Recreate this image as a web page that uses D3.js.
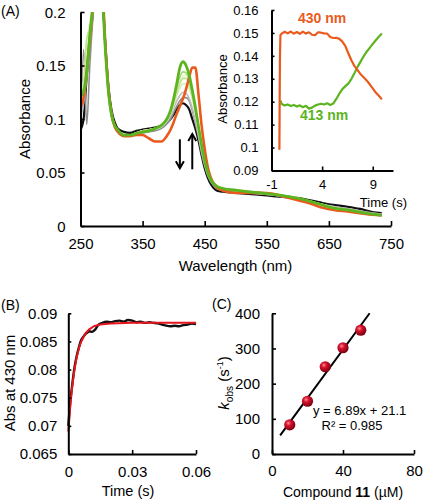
<!DOCTYPE html>
<html><head><meta charset="utf-8">
<script src="https://cdn.jsdelivr.net/npm/d3@7"></script>
<style>
body{margin:0;background:#fff}
svg{display:block;font-family:"Liberation Sans",Arial,Helvetica,sans-serif}
</style>
</head><body>
<svg id="chart" width="423" height="500"></svg>
<script>
// ---------------- DATA ----------------
// Panel A : UV-vis spectra
const wavelengths = [250,255,260,265,270,275,280,285,290,295,300,305,310,320,330,340,350,360,370,380,390,395,400,405,410,415,420,425,430,435,440,445,450,455,460,470,480,500,520,540,560,580,600,620,640,660,680,700,720,735];
const specBlack  = [0.090,0.100,0.140,0.170,0.200,0.230,0.240,0.220,0.170,0.130,0.108,0.097,0.091,0.088,0.087,0.089,0.090,0.091,0.092,0.094,0.097,0.100,0.104,0.109,0.113,0.1147,0.113,0.109,0.100,0.091,0.080,0.066,0.054,0.045,0.039,0.033,0.032,0.031,0.030,0.029,0.028,0.027,0.026,0.024,0.0215,0.0195,0.018,0.016,0.013,0.012];
const specGrey1  = [0.080,0.165,0.095,0.150,0.195,0.225,0.235,0.215,0.165,0.128,0.106,0.094,0.089,0.084,0.084,0.086,0.087,0.088,0.089,0.091,0.096,0.100,0.106,0.112,0.117,0.120,0.120,0.117,0.108,0.096,0.083,0.068,0.056,0.047,0.041,0.035,0.033,0.0315,0.031,0.030,0.029,0.027,0.025,0.023,0.020,0.018,0.016,0.014,0.012,0.011];
const specGrey2  = [0.100,0.115,0.140,0.172,0.200,0.228,0.238,0.218,0.168,0.128,0.105,0.094,0.089,0.085,0.085,0.087,0.089,0.090,0.091,0.093,0.098,0.103,0.110,0.117,0.122,0.125,0.124,0.119,0.110,0.098,0.085,0.070,0.058,0.048,0.042,0.036,0.034,0.032,0.031,0.030,0.029,0.027,0.025,0.023,0.020,0.018,0.016,0.014,0.012,0.011];
const specLight1 = [0.115,0.130,0.170,0.190,0.210,0.232,0.238,0.218,0.168,0.127,0.104,0.094,0.089,0.085,0.085,0.087,0.089,0.090,0.091,0.093,0.099,0.105,0.113,0.122,0.129,0.133,0.133,0.129,0.119,0.105,0.089,0.073,0.060,0.049,0.043,0.037,0.034,0.033,0.032,0.031,0.030,0.028,0.026,0.023,0.020,0.017,0.015,0.013,0.011,0.010];
const specLight2 = [0.118,0.132,0.175,0.185,0.208,0.232,0.237,0.217,0.167,0.126,0.104,0.094,0.089,0.085,0.085,0.087,0.089,0.090,0.091,0.094,0.100,0.106,0.115,0.125,0.133,0.138,0.138,0.133,0.122,0.107,0.090,0.074,0.060,0.049,0.043,0.037,0.035,0.033,0.032,0.031,0.030,0.028,0.026,0.023,0.020,0.017,0.015,0.013,0.011,0.010];
const specLight3 = [0.118,0.135,0.165,0.188,0.207,0.232,0.237,0.217,0.167,0.126,0.104,0.094,0.089,0.085,0.085,0.087,0.089,0.090,0.091,0.094,0.100,0.107,0.117,0.127,0.135,0.140,0.141,0.137,0.126,0.110,0.092,0.075,0.061,0.050,0.043,0.037,0.035,0.033,0.032,0.031,0.030,0.028,0.026,0.023,0.020,0.017,0.015,0.013,0.011,0.010];
const specLight4 = [0.120,0.128,0.150,0.182,0.206,0.231,0.236,0.216,0.166,0.126,0.104,0.094,0.089,0.085,0.085,0.087,0.088,0.089,0.091,0.094,0.100,0.107,0.117,0.129,0.139,0.144,0.143,0.137,0.125,0.110,0.092,0.075,0.061,0.050,0.043,0.037,0.035,0.033,0.032,0.031,0.030,0.028,0.026,0.023,0.020,0.017,0.015,0.013,0.011,0.010];
const specOrange = [0.110,0.120,0.145,0.175,0.205,0.230,0.240,0.225,0.170,0.128,0.104,0.093,0.088,0.084,0.084,0.085,0.085,0.082,0.079,0.079,0.085,0.090,0.097,0.105,0.112,0.119,0.128,0.139,0.148,0.148,0.123,0.094,0.072,0.055,0.045,0.036,0.033,0.031,0.031,0.031,0.030,0.027,0.024,0.021,0.017,0.0148,0.0135,0.012,0.0105,0.0098];
const specGreen  = [0.121,0.126,0.142,0.178,0.205,0.230,0.235,0.215,0.165,0.125,0.104,0.094,0.090,0.085,0.085,0.0865,0.088,0.089,0.091,0.094,0.101,0.108,0.119,0.133,0.148,0.1535,0.150,0.141,0.127,0.111,0.093,0.076,0.061,0.050,0.043,0.037,0.035,0.0335,0.032,0.031,0.0295,0.028,0.026,0.023,0.0195,0.0165,0.015,0.013,0.011,0.010];
const xTicksA = [250,350,450,550,650,750];
const xTickLabelsA = ['250','350','450','550','650','750'];
const yTicksA = [0,0.05,0.1,0.15,0.2];
const yTickLabelsA = ['0','0.05','0.1','0.15','0.2'];
// arrows (wavelength, from absorbance, to absorbance)
const arrowWl   = [410, 430];
const arrowFrom = [0.081, 0.053];
const arrowTo   = [0.054, 0.086];

// Inset : kinetics at 430 nm and 413 nm
const time430 = [-0.22,-0.2,-0.17,-0.12,0.0,0.3,0.6,0.9,1.2,1.5,1.8,2.1,2.4,2.7,3.0,3.3,3.6,3.9,4.2,4.5,4.8,5.1,5.4,5.7,6.0,6.3,6.6,6.9,7.2,7.5,7.8,8.1,8.4,8.7,9.0,9.3,9.6,9.9];
const abs430  = [0.099,0.115,0.138,0.149,0.1497,0.1505,0.1498,0.1506,0.1497,0.1504,0.1496,0.1506,0.1497,0.1503,0.1492,0.1490,0.1503,0.1501,0.1498,0.1497,0.1482,0.1478,0.1479,0.1474,0.1462,0.1442,0.1410,0.1380,0.1355,0.1338,0.1320,0.1307,0.1293,0.1276,0.1258,0.1240,0.1226,0.1210];
const time413 = [-0.1,0.0,0.3,0.6,0.9,1.2,1.5,1.8,2.1,2.4,2.7,3.0,3.3,3.6,3.9,4.2,4.5,4.8,5.1,5.4,5.7,6.0,6.3,6.6,6.9,7.2,7.5,7.8,8.1,8.4,8.7,9.0,9.3,9.6,9.9];
const abs413  = [0.1205,0.1190,0.1184,0.1188,0.1181,0.1186,0.1179,0.1184,0.1176,0.1182,0.1170,0.1174,0.1183,0.1188,0.1191,0.1188,0.1193,0.1186,0.1192,0.1212,0.1235,0.1255,0.1268,0.1280,0.1300,0.1325,0.1352,0.1375,0.1398,0.1418,0.1435,0.1452,0.1468,0.1483,0.1497];
const xTicksIn = [-1,4,9];
const xTickLabelsIn = ['-1','4','9'];
const yTicksIn = [0.09,0.1,0.11,0.12,0.13,0.14,0.15,0.16];
const yTickLabelsIn = ['0.09','0.1','0.11','0.12','0.13','0.14','0.15','0.16'];

// Panel B : trace at 430 nm and single exponential fit
const timeB = [0,0.001,0.002,0.003,0.004,0.005,0.006,0.007,0.008,0.009,0.010,0.011,0.012,0.013,0.014,0.016,0.018,0.020,0.022,0.024,0.026,0.028,0.030,0.032,0.034,0.036,0.038,0.040,0.042,0.044,0.046,0.048,0.050,0.052,0.054,0.056,0.058,0.060];
const absB  = [0.0700,0.0745,0.0778,0.0806,0.0825,0.0840,0.0852,0.0858,0.0863,0.0866,0.0868,0.0867,0.0869,0.0873,0.0879,0.0883,0.0885,0.0884,0.0886,0.0887,0.0885,0.0888,0.0887,0.0884,0.0885,0.0883,0.0884,0.0883,0.0882,0.0880,0.0878,0.0877,0.0878,0.0877,0.0879,0.0880,0.0882,0.0881];
const timeFit = [0,0.001,0.002,0.003,0.004,0.005,0.006,0.008,0.010,0.012,0.015,0.020,0.030,0.040,0.050,0.060];
const absFit  = [0.0690,0.0739,0.0775,0.0802,0.0823,0.0838,0.0849,0.0864,0.0872,0.0877,0.0880,0.0882,0.0883,0.0883,0.0883,0.0883];
const xTicksB = [0,0.03,0.06];
const xTickLabelsB = ['0','0.03','0.06'];
const yTicksB = [0.065,0.07,0.075,0.08,0.085,0.09];
const yTickLabelsB = ['0.065','0.07','0.075','0.08','0.085','0.09'];

// Panel C : kobs vs concentration
const concC = [10,20,30,40,50];
const kobsC = [83,150,248,302,352];
const fitSlope = 6.89, fitIntercept = 21.1;
const fitRange = [4.6,55];
const xTicksC = [0,40,80];
const xTickLabelsC = ['0','40','80'];
const yTicksC = [0,100,200,300,400];
const yTickLabelsC = ['0','100','200','300','400'];

// ---------------- DRAW ----------------
const svg = d3.select('#chart');
const FONT = '"Liberation Sans",Arial,Helvetica,sans-serif';
const defs = svg.append('defs');

function styleAxis(g, fs){
  g.attr('font-family', FONT).attr('font-size', fs);
  g.select('.domain').attr('stroke','#000').attr('stroke-width',2);
  g.selectAll('.tick line').attr('stroke','#000').attr('stroke-width',1.6);
  g.selectAll('.tick text').attr('fill','#000');
}
function label(txt, x, y, fs, opts={}){
  const t = svg.append('text').attr('x',x).attr('y',y).attr('font-size',fs)
    .attr('font-family',FONT).attr('fill',opts.fill||'#000')
    .attr('text-anchor',opts.anchor||'start').text(txt);
  if(opts.bold) t.attr('font-weight','bold');
  if(opts.rotate) t.attr('transform',`rotate(-90,${x},${y})`);
  return t;
}

// ---- Panel A ----
const xA = d3.scaleLinear().domain([250,750]).range([80.5,391]);
const yA = d3.scaleLinear().domain([0,0.2]).range([226,12]);
defs.append('clipPath').attr('id','clipA').append('rect')
  .attr('x',xA(250)).attr('y',yA(0.2)).attr('width',xA(750)-xA(250)).attr('height',yA(0)-yA(0.2));

const spectra = [
  {v:specBlack,  c:'#111111', w:2.2},
  {v:specGrey1,  c:'#8e8e8e', w:1.6},
  {v:specGrey2,  c:'#bdbdbd', w:1.6},
  {v:specLight1, c:'#d3edb2', w:1.6},
  {v:specLight3, c:'#e6f6d4', w:1.6},
  {v:specLight2, c:'#bce58f', w:1.6},
  {v:specLight4, c:'#a5da74', w:1.6},
  {v:specOrange, c:'#ea5a1d', w:2.6},
  {v:specGreen,  c:'#5cb41f', w:2.8}
];
const lineA = d3.line().curve(d3.curveMonotoneX)
  .x(d=>xA(d[0])).y(d=>yA(d[1]));
const gSpec = svg.append('g').attr('clip-path','url(#clipA)');
spectra.forEach(s=>{
  const pts = wavelengths.map((w,i)=>[w,s.v[i]]).filter(p=>p[1]!==undefined);
  gSpec.append('path').datum(pts).attr('d',lineA)
    .attr('fill','none').attr('stroke',s.c).attr('stroke-width',s.w)
    .attr('stroke-linejoin','round');
});

// arrows
arrowWl.forEach((w,i)=>{
  const x = xA(w), y0 = yA(arrowFrom[i]), y1 = yA(arrowTo[i]);
  const dir = y1 > y0 ? 1 : -1;
  svg.append('line').attr('x1',x).attr('x2',x).attr('y1',y0).attr('y2',y1)
    .attr('stroke','#000').attr('stroke-width',2);
  svg.append('path').attr('d',`M${x-4},${y1-dir*7}L${x},${y1}L${x+4},${y1-dir*7}`)
    .attr('fill','none').attr('stroke','#000').attr('stroke-width',2);
});

const axA_x = svg.append('g').attr('transform',`translate(0,${yA(0)})`)
  .call(d3.axisBottom(xA).tickValues(xTicksA).tickFormat((d,i)=>xTickLabelsA[i])
    .tickSizeInner(-5).tickSizeOuter(0).tickPadding(12));
styleAxis(axA_x,15);
const axA_y = svg.append('g').attr('transform',`translate(${xA(250)},0)`)
  .call(d3.axisLeft(yA).tickValues(yTicksA).tickFormat((d,i)=>yTickLabelsA[i])
    .tickSizeInner(-4).tickSizeOuter(0).tickPadding(15));
styleAxis(axA_y,15);
axA_y.selectAll('.tick text').attr('dy','0.36em');

label('(A)',1,16,14);
label('Absorbance',30,119,15,{anchor:'middle',rotate:true});
label('Wavelength (nm)',235.5,271,15,{anchor:'middle'});

// ---- Inset ----
const xI = d3.scaleLinear().domain([-1,11]).range([271.5,393]);
const yI = d3.scaleLinear().domain([0.09,0.16]).range([170.5,10]);
const lineI = d3.line().x(d=>xI(d[0])).y(d=>yI(d[1]));
svg.append('path').datum(time413.map((t,i)=>[t,abs413[i]])).attr('d',lineI)
  .attr('fill','none').attr('stroke','#5cb41f').attr('stroke-width',2.2).attr('stroke-linejoin','round');
svg.append('path').datum(time430.map((t,i)=>[t,abs430[i]])).attr('d',lineI)
  .attr('fill','none').attr('stroke','#ea5a1d').attr('stroke-width',2.2).attr('stroke-linejoin','round');
const axI_x = svg.append('g').attr('transform',`translate(0,${yI(0.09)})`)
  .call(d3.axisBottom(xI).tickValues(xTicksIn).tickFormat((d,i)=>xTickLabelsIn[i])
    .tickSizeInner(-4).tickSizeOuter(0).tickPadding(9));
styleAxis(axI_x,13);
const axI_y = svg.append('g').attr('transform',`translate(${xI(-1)},0)`)
  .call(d3.axisLeft(yI).tickValues(yTicksIn).tickFormat((d,i)=>yTickLabelsIn[i])
    .tickSizeInner(-3).tickSizeOuter(0).tickPadding(13));
styleAxis(axI_y,13);
label('Absorbance',227,89,13,{anchor:'middle',rotate:true});
label('Time (s)',407,207,13,{anchor:'end'});
label('430 nm',298,23,14,{bold:true,fill:'#ea5a1d'});
label('413 nm',300,120,14,{bold:true,fill:'#5cb41f'});

// ---- Panel B ----
const xB = d3.scaleLinear().domain([0,0.06]).range([68.3,196]);
const yB = d3.scaleLinear().domain([0.065,0.09]).range([454,313.3]);
const lineB = d3.line().x(d=>xB(d[0])).y(d=>yB(d[1]));
svg.append('path').datum(timeB.map((t,i)=>[t,absB[i]])).attr('d',lineB.curve(d3.curveMonotoneX))
  .attr('fill','none').attr('stroke','#111').attr('stroke-width',2.4).attr('stroke-linejoin','round');
svg.append('path').datum(timeFit.map((t,i)=>[t,absFit[i]])).attr('d',d3.line().x(d=>xB(d[0])).y(d=>yB(d[1])))
  .attr('fill','none').attr('stroke','#e8141c').attr('stroke-width',2).attr('stroke-linejoin','round');
const axB_x = svg.append('g').attr('transform',`translate(0,${yB(0.065)})`)
  .call(d3.axisBottom(xB).tickValues(xTicksB).tickFormat((d,i)=>xTickLabelsB[i])
    .tickSizeInner(-4).tickSizeOuter(0).tickPadding(12));
styleAxis(axB_x,15);
const axB_y = svg.append('g').attr('transform',`translate(${xB(0)},0)`)
  .call(d3.axisLeft(yB).tickValues(yTicksB).tickFormat((d,i)=>yTickLabelsB[i])
    .tickSizeInner(-3).tickSizeOuter(0).tickPadding(11));
styleAxis(axB_y,15);
label('(B)',1,310,14);
label('Abs at 430 nm',15,383,15,{anchor:'middle',rotate:true});
label('Time (s)',128,496,14.5,{anchor:'middle'});

// ---- Panel C ----
const xC = d3.scaleLinear().domain([0,80]).range([272,414]);
const yC = d3.scaleLinear().domain([0,400]).range([454,313.3]);
const grad = defs.append('radialGradient').attr('id','ball').attr('cx','38%').attr('cy','35%').attr('r','65%');
grad.append('stop').attr('offset','0%').attr('stop-color','#ff8a96');
grad.append('stop').attr('offset','35%').attr('stop-color','#d8142e');
grad.append('stop').attr('offset','100%').attr('stop-color','#7a0010');
svg.append('line')
  .attr('x1',xC(fitRange[0])).attr('y1',yC(fitSlope*fitRange[0]+fitIntercept))
  .attr('x2',xC(fitRange[1])).attr('y2',yC(fitSlope*fitRange[1]+fitIntercept))
  .attr('stroke','#000').attr('stroke-width',2);
svg.selectAll('circle.pt').data(concC.map((c,i)=>[c,kobsC[i]])).enter().append('circle')
  .attr('class','pt').attr('cx',d=>xC(d[0])).attr('cy',d=>yC(d[1])).attr('r',5.6)
  .attr('fill','url(#ball)');
const axC_x = svg.append('g').attr('transform',`translate(0,${yC(0)})`)
  .call(d3.axisBottom(xC).tickValues(xTicksC).tickFormat((d,i)=>xTickLabelsC[i])
    .tickSizeInner(-4).tickSizeOuter(0).tickPadding(11));
styleAxis(axC_x,15);
const axC_y = svg.append('g').attr('transform',`translate(${xC(0)},0)`)
  .call(d3.axisLeft(yC).tickValues(yTicksC).tickFormat((d,i)=>yTickLabelsC[i])
    .tickSizeInner(-4).tickSizeOuter(0).tickPadding(12));
styleAxis(axC_y,15);
label('(C)',212,309,14);
const kl = svg.append('text').attr('transform','translate(229,383) rotate(-90)')
  .attr('text-anchor','middle').attr('font-family',FONT).attr('font-size',15);
kl.append('tspan').attr('font-style','italic').text('k');
kl.append('tspan').attr('font-size',10).attr('dy',4).text('obs');
kl.append('tspan').attr('dy',-4).text(' (s');
kl.append('tspan').attr('font-size',9).attr('dy',-6).text('-1');
kl.append('tspan').attr('dy',6).text(')');
const cl = svg.append('text').attr('x',343).attr('y',497).attr('text-anchor','middle')
  .attr('font-family',FONT).attr('font-size',14);
cl.append('tspan').text('Compound ');
cl.append('tspan').attr('font-weight','bold').text('11');
cl.append('tspan').text(' (µM)');
label(`y = ${fitSlope}x + ${fitIntercept}`,313,415,13);
label('R² = 0.985',321.5,430,13);
</script>
</body></html>
